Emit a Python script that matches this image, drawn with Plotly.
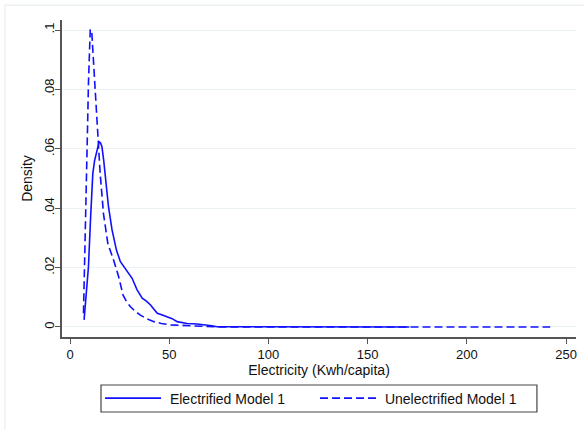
import plotly.graph_objects as go

# Electrified Model 1 (solid)
elec_x = [7.1, 8.0, 9.3, 10.4, 11.5, 12.4, 13.2, 14.0, 14.7, 15.4, 16.1, 17.0, 17.8, 19.4, 21.2, 23.4,
          25.4, 27.0, 28.8, 31.3, 33.8, 36.4, 38.5, 40.6, 42.3, 44.0, 46.5, 49.0, 51.5, 54.0, 59.0,
          64.0, 69.0, 71.5, 74.0, 80.0, 100.0, 130.0, 150.0, 171.0]
elec_y = [0.0024, 0.0090, 0.0203, 0.0370, 0.0517, 0.0560, 0.0585, 0.0610, 0.0624, 0.0620, 0.0607, 0.0560,
          0.0506, 0.0405, 0.0327, 0.0259, 0.0220, 0.0205, 0.0186, 0.0164, 0.0125, 0.0097, 0.0087, 0.0074,
          0.0060, 0.0046, 0.0040, 0.0035, 0.0028, 0.0018, 0.0012, 0.0010, 0.0007, 0.0004, 0.0001,
          0.0001, 0.0, 0.0, 0.0, 0.0]

# Unelectrified Model 1 (dashed)
unel_x = [6.8, 7.2, 7.6, 8.0, 8.5, 8.9, 9.3, 9.8, 10.2, 10.6, 11.0, 11.8, 13.0, 14.0, 15.2, 16.9,
          19.1, 22.0, 24.5, 26.7, 28.5, 30.5, 33.0, 35.5, 38.5, 42.3, 46.0, 50.8, 56.0, 62.0, 68.0,
          75.0, 100.0, 150.0, 200.0, 242.0]
unel_y = [0.0046, 0.0150, 0.0260, 0.0400, 0.0540, 0.0690, 0.0820, 0.0940, 0.1000, 0.1002, 0.0990, 0.0899,
          0.0764, 0.0650, 0.0517, 0.0380, 0.0280, 0.0225, 0.0170, 0.0108, 0.0085, 0.0068, 0.0052, 0.0040,
          0.0028, 0.0018, 0.0012, 0.0007, 0.0005, 0.0003, 0.0002, 0.0, 0.0, 0.0, 0.0, 0.0]

x_ticks = [0, 50, 100, 150, 200, 250]
y_ticks = [0, 0.02, 0.04, 0.06, 0.08, 0.1]
y_tick_text = ["0", ".02", ".04", ".06", ".08", ".1"]

fig = go.Figure()
fig.add_trace(go.Scatter(x=elec_x, y=elec_y, mode="lines", name="\u00a0Electrified Model 1",
                         line=dict(color="#1010ff", width=1.6), hoverinfo="skip"))
fig.add_trace(go.Scatter(x=unel_x, y=unel_y, mode="lines", name="\u00a0Unelectrified Model 1",
                         line=dict(color="#1010ff", width=1.6, dash="8px,4px"), hoverinfo="skip"))

axis_col = "#555555"
fig.update_layout(
    width=584, height=430,
    margin=dict(l=62, r=8, t=20, b=93),
    paper_bgcolor="white", plot_bgcolor="white",
    font=dict(family="Liberation Sans, Arial, sans-serif", size=14, color="#111111"),
    xaxis=dict(range=[-4.03, 255.0], tickvals=x_ticks, showgrid=False, zeroline=False,
               showline=True, linecolor=axis_col, linewidth=1.5, ticks="outside", ticklen=5,
               tickcolor=axis_col, tickwidth=1.2,
               title=dict(text="Electricity (Kwh/capita)", standoff=2, font=dict(size=14)),
               tickfont=dict(size=13)),
    yaxis=dict(range=[-0.00337, 0.10337], tickvals=y_ticks, ticktext=y_tick_text, tickangle=-90,
               showgrid=True, gridcolor="#eaf2f3", gridwidth=1.2, zeroline=False,
               showline=True, linecolor=axis_col, linewidth=1.5, ticks="outside", ticklen=5,
               tickcolor=axis_col, tickwidth=1.2, ticklabelstandoff=-4,
               title=dict(text="Density", standoff=6, font=dict(size=14)),
               tickfont=dict(size=13)),
    legend=dict(orientation="h", x=0.074, y=-0.194, xanchor="left", yanchor="middle",
                borderwidth=0, bgcolor="rgba(0,0,0,0)",
                itemwidth=56, entrywidth=144, entrywidthmode="pixels",
                font=dict(size=14)),
    showlegend=True,
)

# legend box
fig.add_shape(type="rect", xref="paper", yref="paper", x0=0.0759, x1=0.924, y0=-0.1514, y1=-0.2366,
              line=dict(color="#444444", width=1.2), layer="below")

# light outer frame (Stata graph region)
fig.add_shape(type="line", xref="paper", yref="paper", x0=-0.1109, x1=1.2, y0=1.047, y1=1.047,
              line=dict(color="#e6eef0", width=1.2))
fig.add_shape(type="line", xref="paper", yref="paper", x0=-0.1109, x1=-0.1109, y0=1.047, y1=-0.35,
              line=dict(color="#e6eef0", width=1.2))

fig.write_html("out.html")
